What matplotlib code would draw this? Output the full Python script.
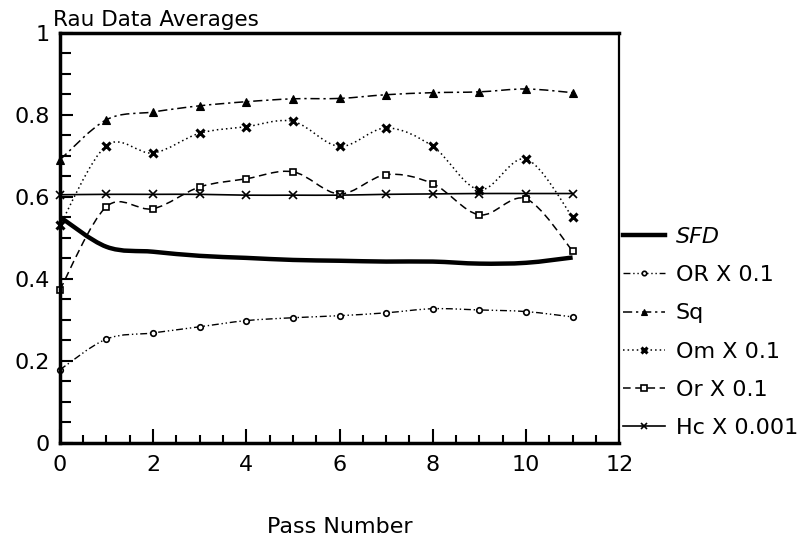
import numpy as np
import matplotlib.pyplot as plt
from matplotlib.path import Path
from matplotlib.patches import PathPatch
from matplotlib.lines import Line2D
from matplotlib.ticker import MultipleLocator

plt.rcParams['font.family'] = ['DejaVu Sans']

passes = np.arange(12)
sfd = [0.551, 0.478, 0.466, 0.456, 0.451, 0.446, 0.444, 0.442, 0.442, 0.437, 0.439, 0.452]
or_big = [0.178, 0.253, 0.268, 0.283, 0.298, 0.305, 0.310, 0.317, 0.327, 0.324, 0.320, 0.307]
sq = [0.690, 0.788, 0.807, 0.822, 0.832, 0.839, 0.840, 0.849, 0.854, 0.856, 0.863, 0.854]
om = [0.530, 0.725, 0.707, 0.755, 0.771, 0.784, 0.723, 0.768, 0.723, 0.617, 0.692, 0.550]
or_small = [0.373, 0.576, 0.571, 0.624, 0.644, 0.661, 0.607, 0.654, 0.632, 0.556, 0.595, 0.468]
hc = [0.605, 0.606, 0.606, 0.606, 0.604, 0.604, 0.604, 0.606, 0.607, 0.608, 0.608, 0.608]
labels = ['SFD', 'OR X 0.1', 'Sq', 'Om X 0.1', 'Or X 0.1', 'Hc X 0.001']
yticks = [0, 0.2, 0.4, 0.6, 0.8, 1]
ytick_labels = ['0', '0.2', '0.4', '0.6', '0.8', '1']


def smooth_path(x, y):
    # catmull-rom segments as bezier curves, drawn by matplotlib
    p = np.column_stack([x, y]).astype(float)
    pts = np.vstack([p[0], p, p[-1]])
    verts = [p[0]]
    codes = [Path.MOVETO]
    for i in range(1, len(pts) - 2):
        c1 = pts[i] + (pts[i + 1] - pts[i - 1]) / 6
        c2 = pts[i + 1] - (pts[i + 2] - pts[i]) / 6
        verts += [c1, c2, pts[i + 1]]
        codes += [Path.CURVE4] * 3
    return Path(verts, codes)


fig = plt.figure(figsize=(7.98, 5.38), dpi=100)
ax = fig.add_axes([0.075, 0.177, 0.701, 0.762])

styles = [
    dict(ls='-', lw=3.2, marker=None),
    dict(ls=(0, (5, 2, 1, 2, 1, 2)), lw=1.0, marker='o', ms=4, mfc='white', mew=1.2),
    dict(ls=(0, (6, 2.5, 1.5, 2.5)), lw=1.1, marker='^', ms=5.5, mfc='black', mew=0.8),
    dict(ls=(0, (1, 2)), lw=1.1, marker='x', ms=6, mfc='black', mew=2.2),
    dict(ls=(0, (5, 3)), lw=1.1, marker='s', ms=5, mfc='white', mew=1.2),
    dict(ls='-', lw=1.2, marker='x', ms=6, mfc='black', mew=1.2),
]
series = [sfd, or_big, sq, om, or_small, hc]

handles = []
for vals, st in zip(series, styles):
    ax.add_patch(PathPatch(smooth_path(passes, vals), fill=False, edgecolor='black',
                           lw=st['lw'], ls=st['ls'], capstyle='butt'))
    if st['marker']:
        ax.plot(passes, vals, ls='none', marker=st['marker'], ms=st['ms'],
                mfc=st['mfc'], mec='black', mew=st['mew'], clip_on=False)
    handles.append(Line2D([], [], color='black', lw=st['lw'], ls=st['ls'],
                          marker=st['marker'], ms=st.get('ms', 0) * 0.8,
                          mfc=st.get('mfc', 'black'), mec='black', mew=st.get('mew', 1)))

ax.set_xlim(0, 12)
ax.set_ylim(0, 1)
ax.xaxis.set_major_locator(MultipleLocator(2))
ax.xaxis.set_minor_locator(MultipleLocator(0.5))
ax.set_yticks(yticks, ytick_labels)
ax.yaxis.set_minor_locator(MultipleLocator(0.05))
ax.tick_params(which='both', direction='in', top=False, right=False, width=1.5, labelsize=16)
ax.tick_params(axis='y', which='major', length=9, pad=7)
ax.tick_params(axis='y', which='minor', length=8)
ax.tick_params(axis='x', which='major', length=10, pad=9)
ax.tick_params(axis='x', which='minor', length=6)
for side in ['left', 'bottom', 'top']:
    ax.spines[side].set_linewidth(2.5)
ax.spines['right'].set_linewidth(1.6)

ax.set_xlabel('Pass Number', fontsize=16, labelpad=30)
fig.text(0.066, 0.951, 'Rau Data Averages', fontsize=15.5, ha='left', va='baseline')

leg = ax.legend(handles, labels, loc='lower left', bbox_to_anchor=(0.99, -0.01),
                frameon=False, fontsize=16, handlelength=1.9, handletextpad=0.5,
                labelspacing=0.82, borderaxespad=0)
leg.get_texts()[0].set_style('italic')

fig.savefig('out.png', dpi=100)
